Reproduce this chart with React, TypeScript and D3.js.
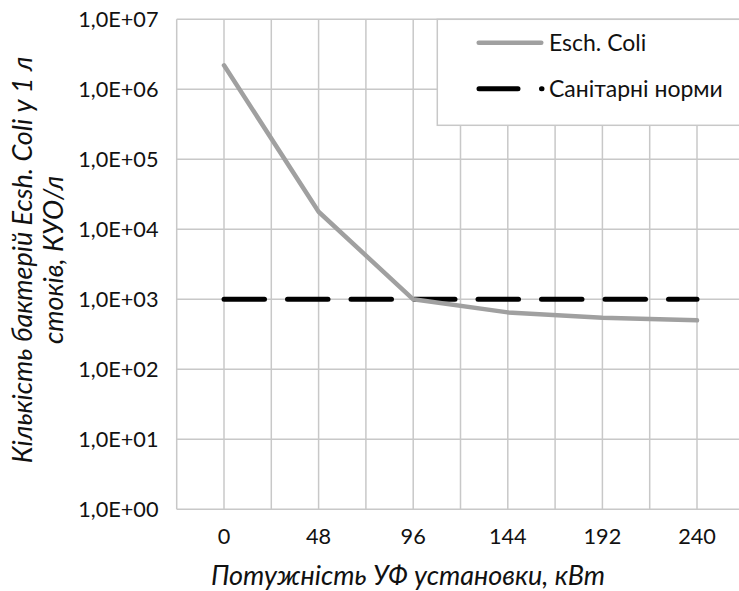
import React from "react";
import * as d3 from "d3";

const xValues = [0, 48, 96, 144, 192, 240];
const eColi = [2200000, 17800, 1000, 650, 545, 500];
const sanitary = [1000, 1000, 1000, 1000, 1000, 1000];
const xTicks = [0, 48, 96, 144, 192, 240];
const yTicks = [1, 10, 100, 1000, 10000, 100000, 1000000, 10000000];
const yTickLabels = ["1,0E+00", "1,0E+01", "1,0E+02", "1,0E+03", "1,0E+04", "1,0E+05", "1,0E+06", "1,0E+07"];
const seriesNames = ["Esch. Coli", "Санітарні норми"];
const xTitle = "Потужність УФ установки, кВт";
const yTitleLines = ["Кількість бактерій Ecsh. Coli у 1 л", "стоків, КУО/л"];

const W = 739;
const H = 591;
const FONT = "Lato, 'Open Sans', sans-serif";
const GRID = "#c8c8c8";
const TXT = "#111";

export default function App() {
  const x = d3.scaleLinear().domain([-24, 264]).range([176.7, 744.3]);
  const y = d3.scaleLog().domain([1, 1e7]).range([509.3, 19.3]);
  const vGrid = d3.range(-24, 265, 24);
  const line = d3
    .line<number>()
    .x((_, i) => x(xValues[i]))
    .y((d) => y(d));

  const legX = 437.3;
  const legY = 19.3;

  return (
    <div style={{ position: "absolute", left: 0, top: 0 }}>
      <svg width={W} height={H} style={{ display: "block", background: "#fff" }} fontFamily={FONT}>
        <rect x={0} y={0} width={W} height={H} fill="#fff" />
        {vGrid.map((v) => (
          <line key={"v" + v} x1={x(v)} x2={x(v)} y1={y(1e7)} y2={y(1)} stroke={GRID} strokeWidth={1.5} />
        ))}
        {yTicks.map((t) => (
          <line key={"h" + t} x1={x(-24)} x2={x(264)} y1={y(t)} y2={y(t)} stroke={GRID} strokeWidth={1.5} />
        ))}
        {yTicks.map((t, i) => (
          <text key={"yl" + t} x={158.5} y={y(t)} dy="0.36em" textAnchor="end" fontSize={21.7} fill={TXT}>
            {yTickLabels[i]}
          </text>
        ))}
        {xTicks.map((t) => (
          <text key={"xl" + t} x={x(t)} y={536} dy="0.36em" textAnchor="middle" fontSize={21.7} fill={TXT}>
            {t}
          </text>
        ))}
        <path d={line(sanitary) || ""} fill="none" stroke="#000" strokeWidth={5} strokeLinecap="round" strokeDasharray="40.5,23" />
        <path d={line(eColi) || ""} fill="none" stroke="#a0a0a0" strokeWidth={4.5} strokeLinejoin="round" strokeLinecap="round" />

        <rect x={legX} y={legY} width={360} height={106} fill="#fff" stroke={GRID} strokeWidth={1.5} />
        <line x1={478.7} x2={541.3} y1={42.7} y2={42.7} stroke="#a0a0a0" strokeWidth={4.5} strokeLinecap="round" />
        <line x1={479} x2={542} y1={88.7} y2={88.7} stroke="#000" strokeWidth={5} strokeLinecap="round" strokeDasharray="39,23.5" />
        <text x={549} y={42.7} dy="0.36em" fontSize={23} fill={TXT}>{seriesNames[0]}</text>
        <text x={549} y={88.7} dy="0.36em" fontSize={23} fill={TXT}>{seriesNames[1]}</text>

        <text x={408} y={575.5} dy="0.36em" textAnchor="middle" fontSize={27} fontStyle="italic" fill={TXT}>
          {xTitle}
        </text>
        <g transform="translate(22.5,260) rotate(-90)">
          <text x={0} y={0} dy="0.35em" textAnchor="middle" fontSize={27} fontStyle="italic" fill={TXT}>
            {yTitleLines[0]}
          </text>
          <text x={0} y={31} dy="0.35em" textAnchor="middle" fontSize={27} fontStyle="italic" fill={TXT}>
            {yTitleLines[1]}
          </text>
        </g>
      </svg>
    </div>
  );
}
